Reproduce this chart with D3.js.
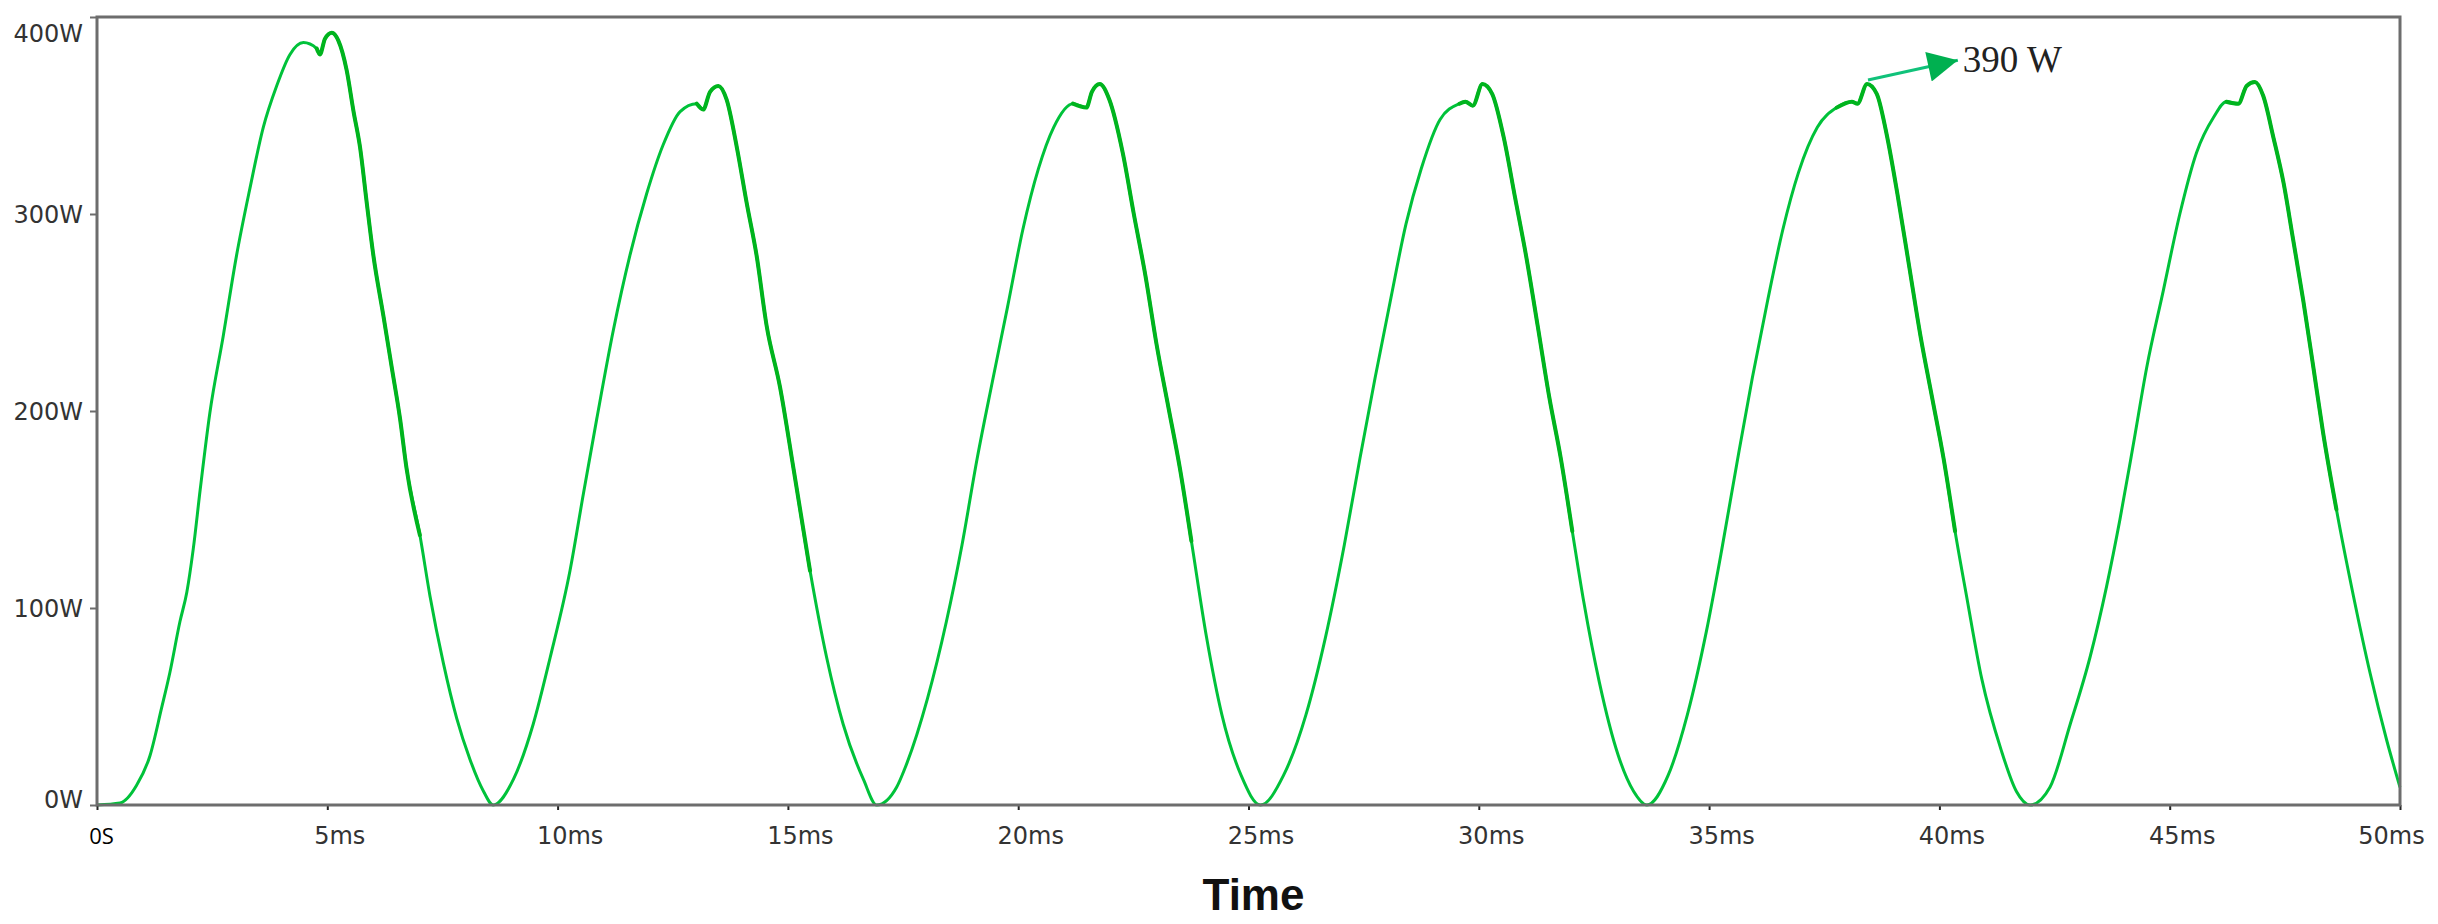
<!DOCTYPE html>
<html>
<head>
<meta charset="utf-8">
<script src="https://cdn.jsdelivr.net/npm/d3@7"></script>
<style>
  body { margin: 0; background: #fff; }
  svg { display: block; }
</style>
</head>
<body>
<div id="chart"></div>
<script>
// axis ticks
var yTicks = [0, 100, 200, 300, 400];
var yLabels = ["0W", "100W", "200W", "300W", "400W"];
var xTicks = [0, 5, 10, 15, 20, 25, 30, 35, 40, 45, 50];
var xLabels = ["0S", "5ms", "10ms", "15ms", "20ms", "25ms", "30ms", "35ms", "40ms", "45ms", "50ms"];

// power waveform, [time ms, watts], one pulse at a time
var pulse1 = [[0,0],[0.5,1],[0.86,10],[1.15,25],[1.40,49],[1.58,67],[1.80,93],[1.95,108],[2.09,130],[2.24,160],[2.45,199],[2.74,238],[3.03,279],[3.32,313],[3.61,344],[3.90,365],[4.19,381],[4.48,387],[4.77,384],[4.84,381],[4.95,389],[5.10,392],[5.24,388],[5.42,373],[5.57,352],[5.71,334],[5.86,305],[6.00,279],[6.22,248],[6.40,222],[6.58,196],[6.72,171],[7.01,137],[7.23,106],[7.52,72],[7.81,44],[8.10,23],[8.39,7],[8.60,0]];
var pulse2 = [[9.04,13],[9.47,41],[9.84,75],[10.27,119],[10.56,158],[10.85,196],[11.21,241],[11.57,279],[11.93,310],[12.29,335],[12.66,352],[13.02,356],[13.16,353],[13.31,362],[13.49,365],[13.67,358],[13.89,334],[14.11,305],[14.32,279],[14.54,243],[14.83,212],[15.12,171],[15.48,119],[15.84,75],[16.20,41],[16.64,13],[16.93,0]];
var pulse3 = [[17.36,9],[17.53,18],[18.03,54],[18.44,93],[18.78,132],[19.11,176],[19.44,215],[19.77,253],[20.10,292],[20.44,323],[20.77,344],[21.19,356],[21.48,354],[21.60,362],[21.77,366],[21.98,358],[22.27,331],[22.51,300],[22.76,269],[23.01,233],[23.26,202],[23.51,171],[23.76,134],[24.09,85],[24.42,46],[24.84,15],[25.26,0]];
var pulse4 = [[25.76,15],[26.25,46],[26.67,85],[27.08,132],[27.42,176],[27.75,217],[28.08,256],[28.42,295],[28.75,323],[29.16,348],[29.58,356],[29.71,357],[29.87,355],[30.08,366],[30.29,361],[30.54,339],[30.79,308],[31.04,277],[31.28,243],[31.53,207],[31.78,176],[32.03,139],[32.28,103],[32.62,62],[33.03,25],[33.36,7],[33.65,0]];
var pulse5 = [[34.11,15],[34.53,46],[34.94,88],[35.27,129],[35.60,173],[35.94,217],[36.27,256],[36.60,292],[36.94,321],[37.35,344],[37.77,354],[38.10,357],[38.22,356],[38.43,366],[38.64,361],[38.85,341],[39.09,310],[39.34,274],[39.59,238],[39.84,207],[40.09,176],[40.34,139],[40.59,106],[40.92,64],[41.34,28],[41.67,7],[41.97,0]];
var pulse6 = [[42.40,9],[42.84,41],[43.27,75],[43.63,111],[43.92,145],[44.21,183],[44.50,222],[44.86,261],[45.22,300],[45.58,331],[45.95,349],[46.23,357],[46.49,356],[46.67,365],[46.85,367],[47.03,360],[47.25,339],[47.47,316],[47.68,287],[47.90,256],[48.12,222],[48.33,189],[48.62,150],[48.99,106],[49.35,67],[49.71,33],[50,9]];

// annotation arrow: from the 5th peak out to the label
var noteFrom = [38.45, 368];
var noteTo = [40.40, 378];
var noteText = "390 W";

var margin = { top: 17, right: 38, bottom: 119, left: 97 };
var width = 2438 - margin.left - margin.right;
var height = 924 - margin.top - margin.bottom;

var axisGrey = "#6d6d6d";
var traceGreen = "#00c23a";
var traceDark = "#00b41e";
var arrowGreen = "#00b050";

var svg = d3.select("#chart").append("svg")
  .attr("width", 2438)
  .attr("height", 924)
  .append("g")
  .attr("transform", "translate(" + margin.left + "," + margin.top + ")");

var x = d3.scaleLinear().domain([0, 50]).range([0, width]);
var y = d3.scaleLinear().domain([0, 400]).range([height, 0]);

var pulses = [pulse1, pulse2, pulse3, pulse4, pulse5, pulse6];
var trace = [].concat(pulse1, pulse2, pulse3, pulse4, pulse5, pulse6);

var line = d3.line()
  .x(function(d) { return x(d[0]); })
  .y(function(d) { return y(d[1]); })
  .curve(d3.curveMonotoneX);

// main trace
svg.append("path")
  .datum(trace)
  .attr("fill", "none")
  .attr("stroke", traceGreen)
  .attr("stroke-width", 3)
  .attr("stroke-linejoin", "round")
  .attr("d", line);

// the peaks and falling edges are noisier, drawn a bit heavier
pulses.forEach(function(p) {
  var top = d3.maxIndex(p, function(d) { return d[1]; });
  var seg = p.slice(Math.max(0, top - 3)).filter(function(d, i) { return i < 4 || d[1] >= 110; });
  svg.append("path")
    .datum(seg)
    .attr("fill", "none")
    .attr("stroke", traceDark)
    .attr("stroke-width", 4)
    .attr("stroke-linejoin", "round")
    .attr("stroke-linecap", "round")
    .attr("d", line);
});

// y axis
var yAxis = svg.append("g")
  .call(d3.axisLeft(y).tickValues(yTicks).tickSize(7).tickFormat(function(d, i) { return yLabels[i]; }));
yAxis.select(".domain").remove();
yAxis.selectAll(".tick line").attr("stroke", axisGrey).attr("stroke-width", 2);
yAxis.selectAll(".tick text")
  .attr("x", -14)
  .attr("dy", function(d) { return d == 400 ? "1.0em" : (d == 0 ? "0.1em" : "0.34em"); })
  .style("font-family", "'DejaVu Sans', sans-serif")
  .style("font-size", "24px")
  .style("fill", "#333");

// x axis
var xAxis = svg.append("g")
  .attr("transform", "translate(0," + height + ")")
  .call(d3.axisBottom(x).tickValues(xTicks).tickSize(5).tickFormat(function(d, i) { return xLabels[i]; }));
xAxis.select(".domain").remove();
xAxis.selectAll(".tick line").attr("stroke", "#222").attr("stroke-width", 2);
xAxis.selectAll(".tick text")
  .attr("y", 0)
  .attr("dy", 0)
  .attr("transform", "translate(0,39)")
  .attr("x", function(d) { return d == 0 ? 4 : (d == 50 ? -9 : 12); })
  .style("font-family", "'DejaVu Sans', sans-serif")
  .style("font-size", "24px")
  .style("fill", "#333");
xAxis.selectAll(".tick text").filter(function(d) { return d == 0; })
  .style("font-family", "'Open Sans', sans-serif")
  .style("font-size", "22px")
  .style("fill", "#000");

// plot frame
svg.append("rect")
  .attr("x", 0)
  .attr("y", 0)
  .attr("width", width)
  .attr("height", height)
  .attr("fill", "none")
  .attr("stroke", axisGrey)
  .attr("stroke-width", 3);

// axis title
svg.append("text")
  .attr("x", width / 2 + 5)
  .attr("y", height + 105)
  .attr("text-anchor", "middle")
  .style("font-family", "'Liberation Sans', Arial, sans-serif")
  .style("font-weight", "bold")
  .style("font-size", "44px")
  .style("fill", "#111")
  .text("Time");

// annotation
svg.append("defs").append("marker")
  .attr("id", "head")
  .attr("viewBox", "0 0 10 10")
  .attr("refX", 10)
  .attr("refY", 5)
  .attr("markerUnits", "userSpaceOnUse")
  .attr("markerWidth", 34)
  .attr("markerHeight", 30)
  .attr("orient", "auto")
  .append("path")
  .attr("d", "M0,0 L10,5 L0,10 Z")
  .attr("fill", arrowGreen);

svg.append("line")
  .attr("x1", x(noteFrom[0]))
  .attr("y1", y(noteFrom[1]))
  .attr("x2", x(noteTo[0]))
  .attr("y2", y(noteTo[1]))
  .attr("stroke", "#10c27a")
  .attr("stroke-width", 3)
  .attr("marker-end", "url(#head)");

svg.append("text")
  .attr("x", x(noteTo[0]) + 5)
  .attr("y", y(noteTo[1]) + 12)
  .style("font-family", "'Liberation Serif', 'Times New Roman', serif")
  .style("font-size", "37px")
  .style("fill", "#222")
  .text(noteText);
</script>
</body>
</html>
